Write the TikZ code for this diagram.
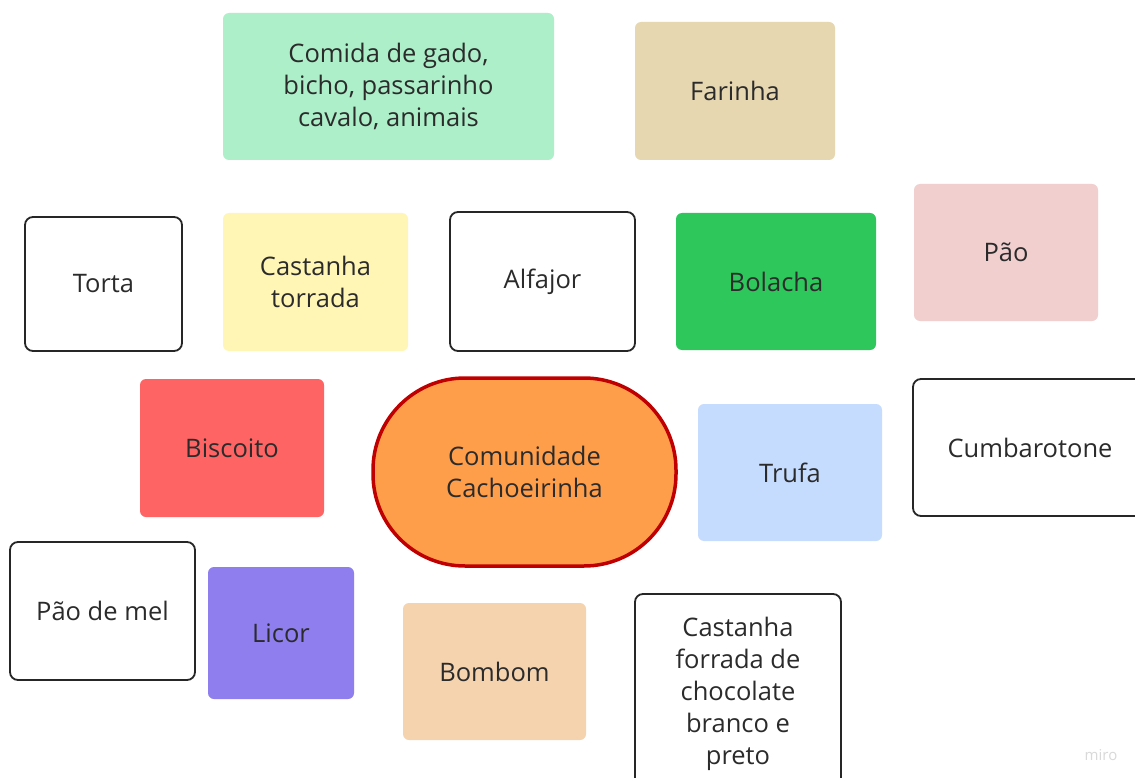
\documentclass[tikz,border=0pt]{standalone}
\usepackage{fontspec}
\setmainfont{Open Sans}
\definecolor{txt}{HTML}{2B2B2B}
\definecolor{mint}{HTML}{ADEFC9}
\definecolor{sand}{HTML}{E6D7B1}
\definecolor{lemon}{HTML}{FFF6B6}
\definecolor{leaf}{HTML}{2DC75C}
\definecolor{rose}{HTML}{F1CFCF}
\definecolor{coral}{HTML}{FF6464}
\definecolor{sky}{HTML}{C6DCFF}
\definecolor{lilac}{HTML}{8F7EEE}
\definecolor{peach}{HTML}{F6D3AF}
\definecolor{pumpkin}{HTML}{FF9E4A}
\definecolor{rim}{HTML}{C00000}
\begin{document}
\begin{tikzpicture}[x=1pt,y=-1pt,
    font=\fontsize{25.5}{32}\selectfont,
    card/.style={rectangle, rounded corners=6pt, inner sep=0pt, align=center, text=txt},
    outline/.style={card, draw=black!85, line width=1.8pt, fill=white, rounded corners=8pt}]
      % page
      \useasboundingbox (0,0) rectangle (1135,778);
      \clip (0,0) rectangle (1135,778);
      \fill[white] (0,0) rectangle (1135,778);

      % top row
      \node (comida) [card, fill=mint, minimum width=331pt, minimum height=147pt] at (388.5,86.5)
          {Comida de gado,\\bicho, passarinho\\cavalo, animais};
      \node (farinha) [card, fill=sand, minimum width=200pt, minimum height=138pt] at (735,91) {Farinha};

      % second row
      \node (torta) [outline, minimum width=157pt, minimum height=134pt] at (103.5,284) {Torta};
      \node (torrada) [card, fill=lemon, minimum width=185pt, minimum height=138pt] at (315.5,282) {Castanha\\torrada};
      \node (alfajor) [outline, minimum width=185pt, minimum height=139pt] at (542.5,281.5) {Alfajor};
      \node (bolacha) [card, fill=leaf, minimum width=200pt, minimum height=137pt] at (776,281.5) {Bolacha};
      \node (pao) [card, fill=rose, minimum width=184pt, minimum height=137pt] at (1006,252.5) {Pão};

      % middle row
      \node (biscoito) [card, fill=coral, minimum width=184pt, minimum height=138pt] at (232,448) {Biscoito};
      \node (comunidade) [card, fill=pumpkin, draw=rim, line width=3.5pt, rounded corners=92pt,
          minimum width=303pt, minimum height=188pt] at (524.5,472) {Comunidade\\Cachoeirinha};
      \node (trufa) [card, fill=sky, minimum width=184pt, minimum height=137pt] at (790,472.5) {Trufa};
      \node (cumbaro) [outline, minimum width=234pt, minimum height=137pt] at (1030,447.5) {Cumbarotone};

      % bottom row
      \node (paomel) [outline, minimum width=185pt, minimum height=138pt] at (102.5,611) {Pão de mel};
      \node (licor) [card, fill=lilac, minimum width=146pt, minimum height=132pt] at (281,633) {Licor};
      \node (bombom) [card, fill=peach, minimum width=183pt, minimum height=137pt] at (494.5,671.5) {Bombom};
      \node (forrada) [outline, minimum width=206pt, minimum height=200pt] at (738,694)
          {Castanha\\forrada de\\chocolate\\branco e\\preto};

      % watermark
      \node (miro) [text=black!15, font=\fontsize{15}{17}\selectfont] at (1101,755) {miro};
\end{tikzpicture}
\end{document}
